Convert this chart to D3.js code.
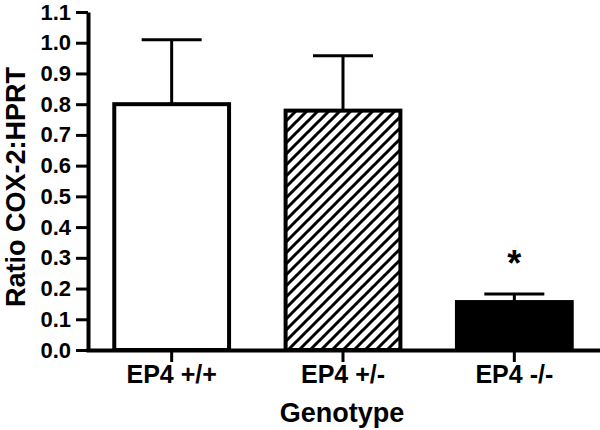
<!DOCTYPE html>
<html>
<head>
<meta charset="utf-8">
<script src="https://cdn.jsdelivr.net/npm/d3@7"></script>
<style>
  body { margin: 0; background: #fff; }
  svg text { font-family: "Liberation Sans", Arial, sans-serif; font-weight: bold; fill: #000; }
</style>
</head>
<body>
<svg id="chart" width="600" height="430"></svg>
<script>
// values
const genotypes = ['EP4 +/+', 'EP4 +/-', 'EP4 -/-'];
const ratioMean = [0.80, 0.779, 0.156];
const ratioSem = [0.21, 0.179, 0.026];
const yTicks = [0.0, 0.1, 0.2, 0.3, 0.4, 0.5, 0.6, 0.7, 0.8, 0.9, 1.0, 1.1];
const significant = [false, false, true];

const svg = d3.select('#chart');

const x = d3.scaleBand()
  .domain(genotypes)
  .range([86, 600])
  .paddingInner(0.33)
  .paddingOuter(0.165);

const y = d3.scaleLinear()
  .domain([0, 1.1])
  .range([350, 12]);

// hatch for the middle bar
svg.append('defs').append('pattern')
  .attr('id', 'hatch')
  .attr('patternUnits', 'userSpaceOnUse')
  .attr('width', 11)
  .attr('height', 11)
  .append('path')
  .attr('d', 'M0,11 L11,0 M-3,3 L3,-3 M8,14 L14,8')
  .attr('stroke', '#000')
  .attr('stroke-width', 3);

const fills = ['#fff', 'url(#hatch)', '#000'];

const rows = genotypes.map((g, i) => ({
  g: g, mean: ratioMean[i], sem: ratioSem[i], star: significant[i], fill: fills[i]
}));

// error bars (drawn first so the bar border covers the stem bottom)
const err = svg.append('g');
rows.forEach((d) => {
  let cx = x(d.g) + x.bandwidth() / 2;
  err.append('line')
    .attr('x1', cx).attr('x2', cx)
    .attr('y1', y(d.mean)).attr('y2', y(d.mean + d.sem))
    .attr('stroke', '#000').attr('stroke-width', 3);
  err.append('line')
    .attr('x1', cx - 30).attr('x2', cx + 30)
    .attr('y1', y(d.mean + d.sem)).attr('y2', y(d.mean + d.sem))
    .attr('stroke', '#000').attr('stroke-width', 3);
});

svg.append('g')
  .selectAll('rect')
  .data(rows)
  .join('rect')
  .attr('x', d => x(d.g))
  .attr('y', d => y(d.mean))
  .attr('width', x.bandwidth())
  .attr('height', d => y(0) - y(d.mean))
  .attr('fill', d => d.fill)
  .attr('stroke', '#000')
  .attr('stroke-width', 4);

svg.append('g')
  .selectAll('text')
  .data(rows.filter(d => d.star))
  .join('text')
  .attr('x', d => x(d.g) + x.bandwidth() / 2)
  .attr('y', d => y(d.mean + d.sem) - 18)
  .attr('text-anchor', 'middle')
  .style('font-size', '36px')
  .text('*');

// y axis
const yAxis = svg.append('g')
  .attr('transform', 'translate(88,0)')
  .call(d3.axisLeft(y).tickValues(yTicks).tickFormat(d3.format('.1f'))
    .tickSize(12).tickSizeOuter(0).tickPadding(5));
yAxis.select('.domain').attr('stroke-width', 4);
yAxis.selectAll('.tick line').attr('stroke-width', 3);
yAxis.selectAll('.tick text').style('font-size', '22px');

// x axis
const xAxis = svg.append('g')
  .attr('transform', 'translate(0,350)')
  .call(d3.axisBottom(x).tickSize(12).tickSizeOuter(0).tickPadding(3));
xAxis.select('.domain').attr('stroke-width', 4);
xAxis.selectAll('.tick line').attr('stroke-width', 3);
xAxis.selectAll('.tick text').style('font-size', '25px');

svg.append('text')
  .attr('transform', 'translate(25,187) rotate(-90)')
  .attr('text-anchor', 'middle')
  .style('font-size', '27px')
  .text('Ratio COX-2:HPRT');

svg.append('text')
  .attr('x', 342)
  .attr('y', 422)
  .attr('text-anchor', 'middle')
  .style('font-size', '27px')
  .text('Genotype');
</script>
</body>
</html>
